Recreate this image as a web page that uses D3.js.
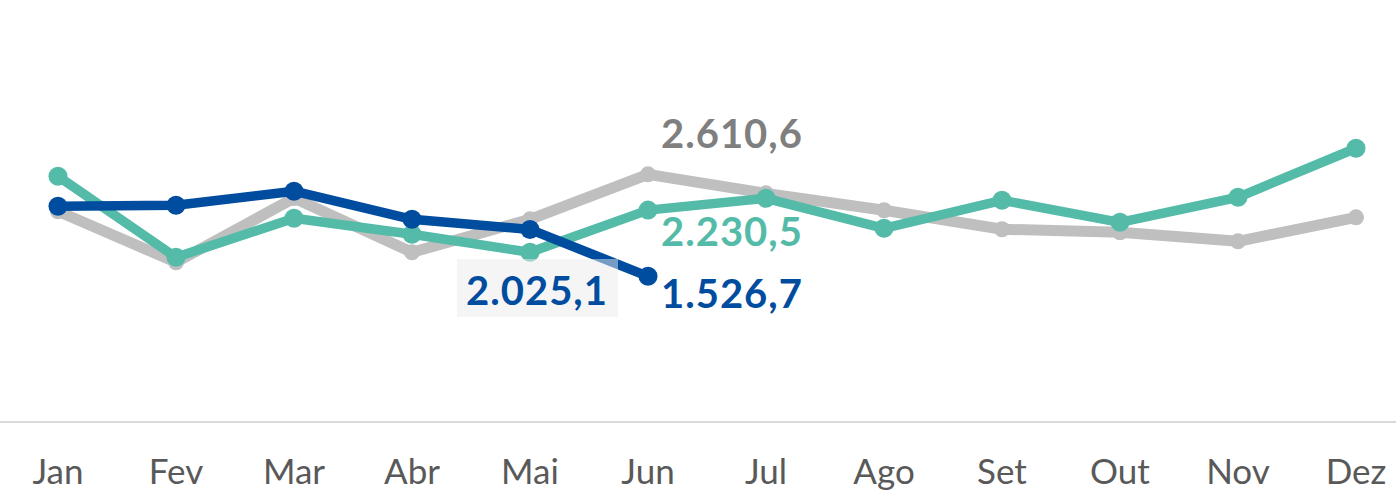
<!DOCTYPE html>
<html>
<head>
<meta charset="utf-8">
<script src="https://cdn.jsdelivr.net/npm/d3@7"></script>
<style>
  html, body { margin: 0; padding: 0; background: #fff; }
  svg { display: block; font-family: Lato, "Open Sans", sans-serif; }
</style>
</head>
<body>
<div id="chart"></div>
<script>
// month labels
const months = ['Jan', 'Fev', 'Mar', 'Abr', 'Mai', 'Jun', 'Jul', 'Ago', 'Set', 'Out', 'Nov', 'Dez'];

// previous years and current year
const serieCinza = [2218, 1676, 2358, 1782, 2133, 2610.6, 2409, 2229, 2027, 1995, 1899, 2154];
const serieVerde = [2590, 1729, 2144, 1974, 1782, 2230.5, 2356, 2037, 2335, 2101, 2367, 2888];
const serieAzul = [2271, 2282, 2431, 2133, 2025.1, 1526.7];

const width = 1396;
const height = 494;

const svg = d3.select('#chart').append('svg')
  .attr('width', width)
  .attr('height', height);

const x = d3.scalePoint().domain(months).range([58, 1356]);
const y = d3.scaleLinear().domain([0, 4000]).range([420, 43.6]);

// number format pt-BR style
const fmt = v => d3.format(',.1f')(v).replace(/,/g, '#').replace('.', ',').replace(/#/g, '.');

// baseline
svg.append('line')
  .attr('x1', 0).attr('x2', width)
  .attr('y1', 422).attr('y2', 422)
  .attr('stroke', '#d9d9d9')
  .attr('stroke-width', 2);

// month axis labels
svg.append('g').selectAll('text')
  .data(months)
  .enter().append('text')
  .attr('x', d => x(d))
  .attr('y', 484)
  .attr('text-anchor', 'middle')
  .attr('font-size', 35)
  .attr('fill', '#595959')
  .text(d => d);

const series = [
  { name: 'cinza', values: serieCinza, color: '#bfbfbf', width: 11, r: 8 },
  { name: 'verde', values: serieVerde, color: '#55bba9', width: 9.5, r: 9.5 },
  { name: 'azul', values: serieAzul, color: '#004c9e', width: 9.5, r: 9.5 },
];

const line = d3.line()
  .x((d, i) => x(months[i]))
  .y(d => y(d));

series.forEach((s) => {
  const g = svg.append('g').attr('class', s.name);
  g.append('path')
    .datum(s.values)
    .attr('d', line)
    .attr('fill', 'none')
    .attr('stroke', s.color)
    .attr('stroke-width', s.width)
    .attr('stroke-linejoin', 'round');
  g.selectAll('circle')
    .data(s.values)
    .enter().append('circle')
    .attr('cx', (d, i) => x(months[i]))
    .attr('cy', d => y(d))
    .attr('r', s.r)
    .attr('fill', s.color);
});

// data labels at Jun
const jun = months[5];
const labels = [
  { v: serieCinza[5], color: '#7f7f7f', dy: -26 },
  { v: serieVerde[5], color: '#55bba9', dy: 36 },
  { v: serieAzul[5], color: '#004c9e', dy: 32 },
];
svg.append('g').selectAll('text')
  .data(labels)
  .enter().append('text')
  .attr('x', x(jun) + 13)
  .attr('y', d => y(d.v) + d.dy)
  .attr('font-size', 40)
  .attr('font-weight', 700)
  .attr('letter-spacing', 1)
  .attr('fill', d => d.color)
  .text(d => fmt(d.v));

// boxed label for Mai
const mai = months[4];
svg.append('rect')
  .attr('x', x(mai) - 73)
  .attr('y', 259)
  .attr('width', 161)
  .attr('height', 58)
  .attr('fill', '#ececec')
  .attr('fill-opacity', 0.5);
svg.append('text')
  .attr('x', x(mai) + 7)
  .attr('y', 305)
  .attr('text-anchor', 'middle')
  .attr('font-size', 40)
  .attr('font-weight', 700)
  .attr('letter-spacing', 1)
  .attr('fill', '#004c9e')
  .text(fmt(serieAzul[4]));
</script>
</body>
</html>
